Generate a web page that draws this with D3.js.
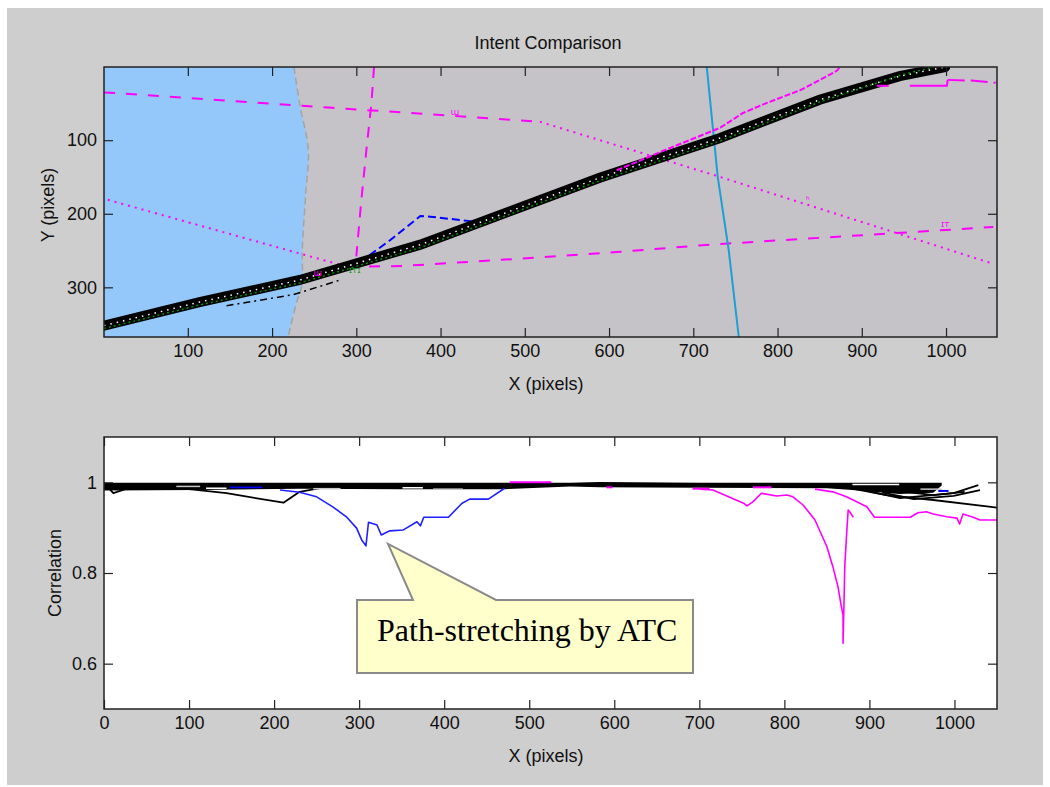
<!DOCTYPE html>
<html>
<head>
<meta charset="utf-8">
<title>Intent Comparison</title>
<script src="https://cdn.jsdelivr.net/npm/d3@7"></script>
<style>
  body { margin: 0; background: #fff; }
</style>
</head>
<body>
<svg id="vis" width="1050" height="787"></svg>
<script>
// ---- top panel: map of trajectories (image pixels) ----
var topXTicks = [100, 200, 300, 400, 500, 600, 700, 800, 900, 1000];
var topYTicks = [100, 200, 300];

// edge of the light blue zone
var coverageEdge = [[226,0.5],[233,52],[243,113],[240,172],[236,245],[235,299],[229,321],[219,367.5]];

// main bundle of tracks
var bandTrack  = [[0.5,352],[114,320],[233,290],[376,242],[589,151],[732,97],[850,45],[945,13],[999,0.5]];
var greenTrack = [[0.5,356],[114,324],[233,294],[376,246],[589,155],[732,101],[850,48],[945,12],[985,0.5]];
var blackDashDot = [[146,325],[225,310],[281,290]];

var magentaADash = [[0.5,35],[272,56],[364,63],[518,75]];
var magentaADot  = [[518,75],[732,150],[1056,268]];
var magentaBDot  = [[5,181],[289,272]];
var magentaBDash = [[289,272],[355,271],[522,259],[609,252],[720,242],[1056,218]];
var magentaCDash = [[321,0.5],[318,49],[312,113],[306,181],[300,258]];
var magentaD     = [[609,141],[661,116],[732,83],[759,63],[788,49],[827,32],[862,11],[871,5],[874,0.5]];
var magentaE     = [[918,26],[932,26]];
var magentaF     = [[957,26],[1001,26],[1002,18]];
var magentaFDash = [[1002,18],[1030,19],[1059,22]];
var blueDash     = [[304,266],[340,236],[376,203],[388,204],[435,210],[447,214]];
var cyanTrack    = [[716,0.5],[729,150],[742,249],[754,367.5]];

// small flight labels on the map: x, y, glyph, colour
var mapMarks = [[417,66,"ɯ","#ff00ff"],[836,185,"ʰ","#ff00ff"],[999,218,"ɪᴛ","#ff00ff"],
                [254,285,"ɯ","#ff00ff"],[298,281,"ɪᴛɪ","#1a9a1a"]];

// ---- bottom panel: correlation ----
var botXTicks = [0, 100, 200, 300, 400, 500, 600, 700, 800, 900, 1000];
var botYTicks = [0.6, 0.8, 1];

var bandUpper = [[0,0.999],[300,0.999],[560,0.999],[600,1.002],[640,0.999],[985,0.999]];
var bandLower = [[0,0.982],[110,0.983],[230,0.986],[350,0.985],[470,0.985],[548,0.991],[583,0.989],[700,0.988],[850,0.987],[880,0.983],[935,0.974],[975,0.977],[985,0.993]];
var bandGaps = [
  [[85,0.991],[113,0.991]], [[120,0.987],[144,0.987]], [[246,0.986],[278,0.986]],
  [[351,0.988],[375,0.988]], [[387,0.985],[422,0.985]], [[880,0.995],[935,0.995]],
  [[960,0.985],[985,0.985]]
];
var blackLeft   = [[0,0.992],[89,0.987],[144,0.976],[211,0.955],[230,0.979],[254,0.987]];
var blackLeftB  = [[0,0.999],[11,0.976],[25,0.985]];
var blackRight1 = [[877,0.987],[920,0.972],[975,0.961],[1038,0.947],[1050,0.944]];
var blackRight2 = [[900,0.980],[936,0.965],[999,0.976],[1028,0.994]];
var blackRight3 = [[915,0.978],[952,0.963],[999,0.970],[1030,0.983]];
var blackRight4 = [[930,0.982],[975,0.972],[1012,0.979]];

var corrBlue1 = [[148,0.989],[186,0.989]];
var corrBlue2 = [[207,0.983],[230,0.978],[250,0.968],[269,0.946],[285,0.924],[297,0.899],[303,0.873],[308,0.860],
                 [311,0.912],[321,0.906],[326,0.884],[336,0.893],[352,0.895],[368,0.913],[372,0.904],[376,0.923],
                 [395,0.923],[405,0.923],[421,0.954],[430,0.963],[452,0.963],[471,0.987]];
var corrBlue3 = [[981,0.981],[993,0.981]];
var corrMagenta1 = [[701,0.985],[716,0.983],[752,0.954],[756,0.948],[763,0.957],[773,0.976],[791,0.970],[803,0.972],
                    [810,0.968],[822,0.950],[836,0.917],[850,0.858],[857,0.814],[863,0.770],[867,0.726],[869,0.707],
                    [869,0.645],[870,0.726],[871,0.814],[873,0.880],[875,0.939],[878,0.932],[881,0.923]];
var corrMagenta2 = [[836,0.985],[857,0.979],[873,0.968],[885,0.957],[897,0.946],[906,0.923],[948,0.923],[957,0.933],
                    [967,0.935],[975,0.930],[991,0.924],[1003,0.921],[1006,0.908],[1010,0.930],[1022,0.923],[1030,0.917],[1050,0.917]];
var magentaBits = [[[477,1.0],[526,1.0]], [[591,0.989],[598,0.989]], [[692,0.986],[712,0.986]], [[763,0.989],[785,0.989]]];

var calloutTip = [334, 0.864];

var svg = d3.select("#vis");
var font = "'Liberation Sans', Arial, sans-serif";

svg.append("rect").attr("x", 7).attr("y", 8).attr("width", 1036).attr("height", 777).attr("fill", "#cecece");

var xTop = d3.scaleLinear([0.5, 1060.5], [104, 997]);
var yTop = d3.scaleLinear([0.5, 367.5], [67, 337]);
var xBot = d3.scaleLinear([0, 1050], [104, 997]);
var yBot = d3.scaleLinear([0.5, 1.1], [709, 437]);

function box(x, y) {
  var yr = d3.extent(y.range());
  return { x: x.range()[0], y: yr[0], w: x.range()[1] - x.range()[0], h: yr[1] - yr[0] };
}

function clip(id, x, y) {
  var b = box(x, y);
  svg.append("clipPath").attr("id", id).append("rect")
    .attr("x", b.x).attr("y", b.y).attr("width", b.w).attr("height", b.h);
}
clip("clipTop", xTop, yTop);
clip("clipBot", xBot, yBot);

function frame(x, y, xt, yt, yfmt) {
  var b = box(x, y);
  var g = svg.append("g");
  g.append("g").attr("transform", "translate(0," + (b.y + b.h) + ")")
    .call(d3.axisBottom(x).tickValues(xt).tickSize(-9).tickPadding(7).tickFormat(d3.format("d")));
  g.append("g").attr("transform", "translate(0," + b.y + ")")
    .call(d3.axisTop(x).tickValues(xt).tickSize(-9).tickFormat(""));
  g.append("g").attr("transform", "translate(" + b.x + ",0)")
    .call(d3.axisLeft(y).tickValues(yt).tickSize(-9).tickPadding(7).tickFormat(yfmt));
  g.append("g").attr("transform", "translate(" + (b.x + b.w) + ",0)")
    .call(d3.axisRight(y).tickValues(yt).tickSize(-9).tickFormat(""));
  g.selectAll(".domain").remove();
  g.selectAll(".tick line").attr("stroke", "#222").attr("stroke-width", 1.2);
  g.selectAll(".tick text").attr("fill", "#111").attr("font-family", font).attr("font-size", 18);
  g.append("rect").attr("x", b.x).attr("y", b.y).attr("width", b.w).attr("height", b.h)
    .attr("fill", "none").attr("stroke", "#222").attr("stroke-width", 1.5);
}

// ===== top panel =====
var gTop = svg.append("g").attr("clip-path", "url(#clipTop)");
var bt = box(xTop, yTop);
gTop.append("rect").attr("x", bt.x).attr("y", bt.y).attr("width", bt.w).attr("height", bt.h).attr("fill", "#c5c3c7");

var zone = d3.area().curve(d3.curveCatmullRom)
  .y(function(d) { return yTop(d[1]); })
  .x0(xTop(0.5) - 2)
  .x1(function(d) { return xTop(d[0]); });
gTop.append("path").datum(coverageEdge).attr("d", zone).attr("fill", "#94c8fa");

var edgeLine = d3.line().curve(d3.curveCatmullRom).x(function(d) { return xTop(d[0]); }).y(function(d) { return yTop(d[1]); });
gTop.append("path").datum(coverageEdge).attr("d", edgeLine).attr("fill", "none")
  .attr("stroke", "#a4a4a4").attr("stroke-width", 1.5).attr("stroke-dasharray", "7 4");

var lineTop = d3.line().x(function(d) { return xTop(d[0]); }).y(function(d) { return yTop(d[1]); });

function drawTop(data, color, width, dash) {
  gTop.append("path").datum(data).attr("d", lineTop).attr("fill", "none")
    .attr("stroke", color).attr("stroke-width", width)
    .attr("stroke-dasharray", dash || null);
}

drawTop(magentaADash, "#ff00ff", 2, "11 11");
drawTop(magentaADot, "#ff00ff", 2, "2 5");
drawTop(magentaBDot, "#ff00ff", 2, "2 5");
drawTop(magentaBDash, "#ff00ff", 2, "11 11");
drawTop(magentaCDash, "#ff00ff", 2, "11 9");
drawTop(cyanTrack, "#1e9fd2", 2);
drawTop(blueDash, "#0000ff", 2, "8 4");
drawTop(blackDashDot, "#000", 1.5, "7 4 2 4");

// black bundle
gTop.append("path").datum(bandTrack).attr("d", lineTop).attr("fill", "none")
  .attr("stroke", "#000").attr("stroke-width", 10).attr("stroke-linecap", "round");
gTop.append("path").datum(bandTrack).attr("d", lineTop).attr("fill", "none")
  .attr("stroke", "#fff").attr("stroke-width", 1.5).attr("stroke-dasharray", "1.5 5");
drawTop(greenTrack, "#009000", 1.5, "2 3");

drawTop(magentaD, "#ff00ff", 2, "6 2");
drawTop(magentaE, "#ff00ff", 2);
drawTop(magentaF, "#ff00ff", 2);
drawTop(magentaFDash, "#ff00ff", 2, "17 6");

gTop.selectAll("text.mark").data(mapMarks).enter().append("text").attr("class", "mark")
  .attr("x", function(d) { return xTop(d[0]); }).attr("y", function(d) { return yTop(d[1]); })
  .attr("text-anchor", "middle").attr("font-family", "'DejaVu Sans', sans-serif").attr("font-size", 9)
  .attr("fill", function(d) { return d[3]; }).text(function(d) { return d[2]; });

frame(xTop, yTop, topXTicks, topYTicks, d3.format("d"));

// ===== bottom panel =====
var bb = box(xBot, yBot);
svg.append("rect").attr("x", bb.x).attr("y", bb.y).attr("width", bb.w).attr("height", bb.h).attr("fill", "#fff");
var gBot = svg.append("g").attr("clip-path", "url(#clipBot)");
var lineBot = d3.line().x(function(d) { return xBot(d[0]); }).y(function(d) { return yBot(d[1]); });

function drawBot(data, color, width) {
  gBot.append("path").datum(data).attr("d", lineBot).attr("fill", "none")
    .attr("stroke", color).attr("stroke-width", width).attr("stroke-linejoin", "round");
}

drawBot(blackLeft, "#000", 1.8);
drawBot(blackLeftB, "#000", 1.8);
drawBot(blackRight1, "#000", 1.8);
drawBot(blackRight2, "#000", 1.8);
drawBot(blackRight3, "#000", 1.8);
drawBot(blackRight4, "#000", 1.8);

// band between upper and lower traces
var upperFn = d3.scaleLinear(bandUpper.map(function(d) { return d[0]; }), bandUpper.map(function(d) { return d[1]; }));
gBot.append("path").datum(bandLower)
  .attr("d", d3.area().x(function(d) { return xBot(d[0]); })
    .y0(function(d) { return yBot(d[1]); })
    .y1(function(d) { return yBot(upperFn(d[0])); }))
  .attr("fill", "#000");
bandGaps.forEach(function(s, i) { drawBot(s, i % 2 ? "#fff" : "#c8c8c8", 1.5); });

drawBot(corrBlue1, "#0000ff", 1.8);
drawBot(corrBlue2, "#2020ff", 1.6);
drawBot(corrBlue3, "#0000ff", 2);
drawBot(corrMagenta1, "#ff00ff", 1.6);
drawBot(corrMagenta2, "#ff00ff", 1.6);
magentaBits.forEach(function(s) { drawBot(s, "#ff00ff", 2); });

frame(xBot, yBot, botXTicks, botYTicks, function(d) { return d === 1 ? "1" : d3.format(".1f")(d); });

// ===== labels =====
function label(x, y, txt, rot) {
  var t = svg.append("text").attr("x", x).attr("y", y).attr("text-anchor", "middle")
    .attr("font-family", font).attr("font-size", 18).attr("fill", "#111").text(txt);
  if (rot) t.attr("transform", "rotate(-90," + x + "," + y + ")");
  return t;
}
label(548, 49, "Intent Comparison");
label(546, 390, "X (pixels)");
label(54, 205, "Y (pixels)", true);
label(546, 762, "X (pixels)");
label(61, 573, "Correlation", true);

// ===== callout =====
var tx = xBot(calloutTip[0]), ty = yBot(calloutTip[1]);
var bx0 = 357, by0 = 600, bx1 = 693, by1 = 673;
svg.append("path")
  .attr("d", "M" + bx0 + "," + by0 + "L413," + by0 + "L" + tx + "," + ty + "L496," + by0 +
             "L" + bx1 + "," + by0 + "L" + bx1 + "," + by1 + "L" + bx0 + "," + by1 + "Z")
  .attr("fill", "#ffffcc").attr("stroke", "#8a8a8a").attr("stroke-width", 2);
svg.append("text").attr("x", 377).attr("y", 641)
  .attr("font-family", "'Liberation Serif', 'Times New Roman', serif").attr("font-size", 32)
  .attr("fill", "#000").text("Path-stretching by ATC");
</script>
</body>
</html>
